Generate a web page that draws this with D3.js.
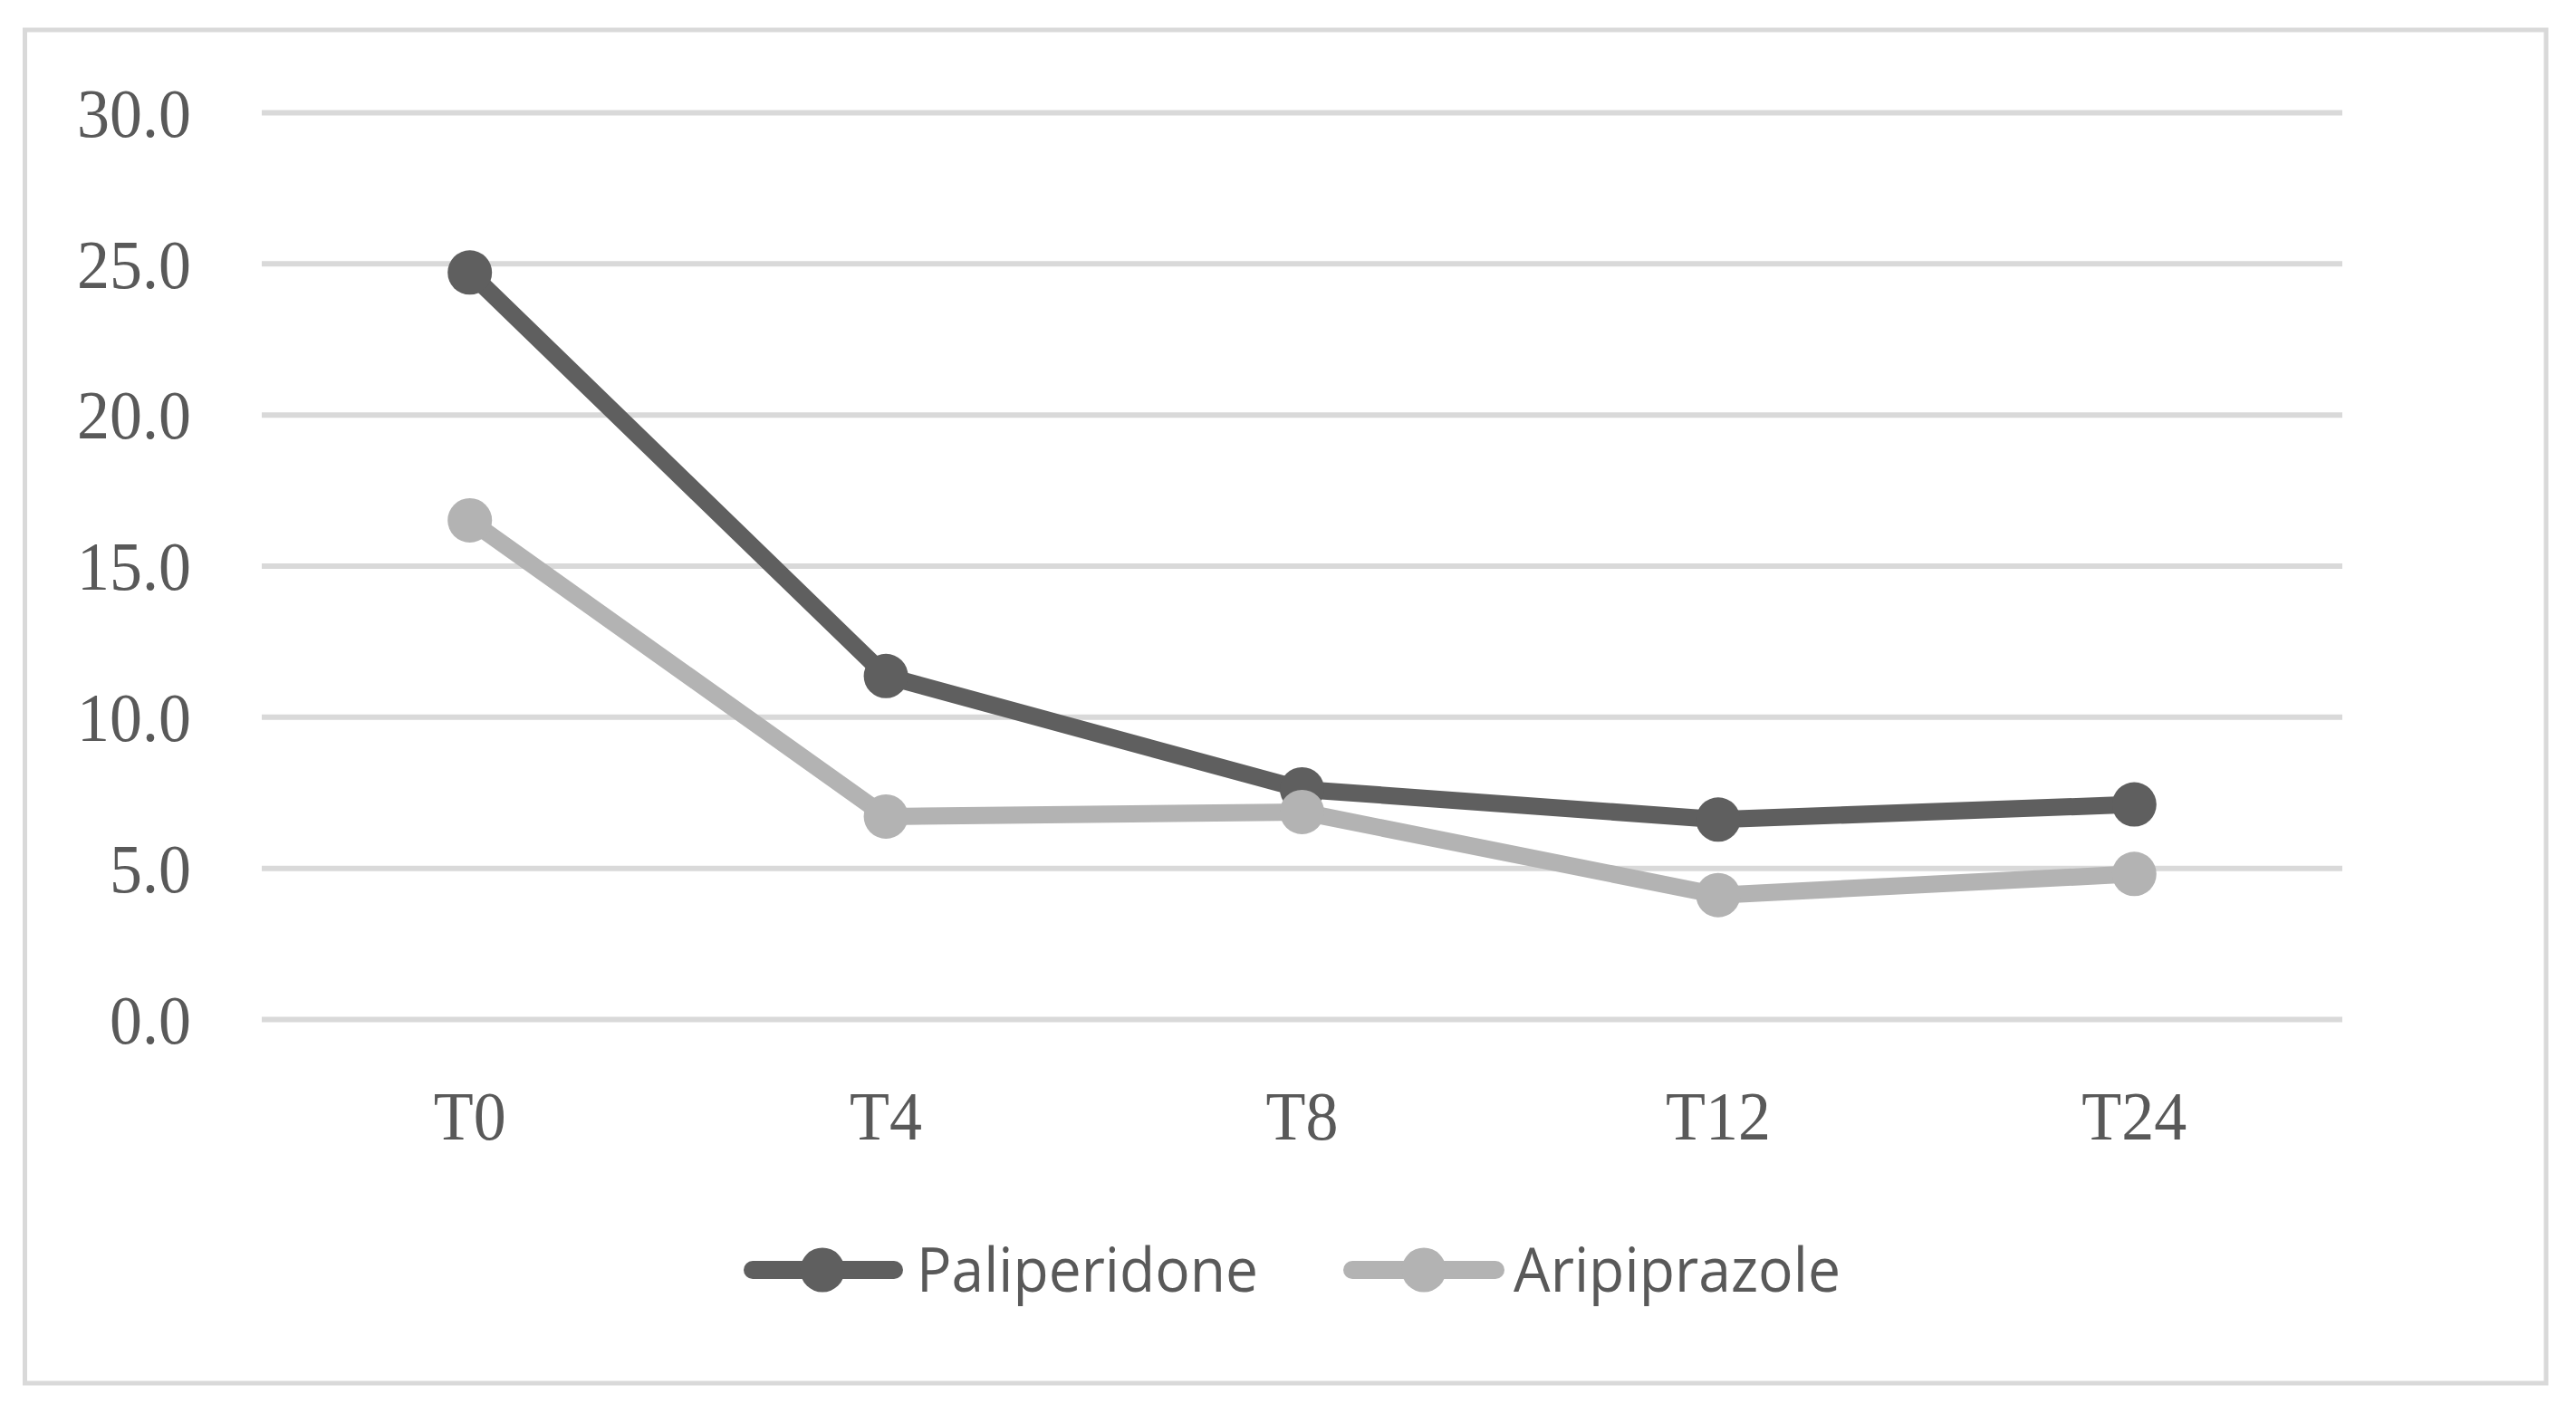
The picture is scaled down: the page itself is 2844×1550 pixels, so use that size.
<!DOCTYPE html>
<html>
<head>
<meta charset="utf-8">
<script src="https://cdn.jsdelivr.net/npm/d3@7"></script>
<style>
  html, body { margin: 0; padding: 0; background: #ffffff; }
  svg { display: block; }
</style>
</head>
<body>
<svg id="chart" width="2844" height="1550"></svg>
<script>
// ---- data ----
const categories = ["T0", "T4", "T8", "T12", "T24"];
const paliperidone = [24.7, 11.35, 7.6, 6.6, 7.1];
const aripiprazole = [16.5, 6.7, 6.85, 4.1, 4.8];
const seriesNames = ["Paliperidone", "Aripiprazole"];
const yTicks = [0, 5, 10, 15, 20, 25, 30];

const seriesColors = ["#5f5f5f", "#b3b3b3"];
const series = [
  { name: seriesNames[0], values: paliperidone, color: seriesColors[0] },
  { name: seriesNames[1], values: aripiprazole, color: seriesColors[1] }
];

const svg = d3.select("#chart");
const W = 2844, H = 1550;
const plot = { left: 289, right: 2586, top: 124, bottom: 1125 };

// outer border
svg.append("rect")
  .attr("x", 27.5).attr("y", 33)
  .attr("width", 2811 - 27.5).attr("height", 1527 - 33)
  .attr("fill", "#ffffff")
  .attr("stroke", "#d9d9d9").attr("stroke-width", 5);

const x = d3.scaleBand().domain(categories).range([plot.left, plot.right]).padding(0);
const y = d3.scaleLinear().domain([0, 30]).range([plot.bottom, plot.top]);

// gridlines + y labels via axis
const yAxis = d3.axisLeft(y)
  .tickValues(yTicks)
  .tickSize(-(plot.right - plot.left))
  .tickPadding(78)
  .tickFormat(d3.format(".1f"));

const gy = svg.append("g")
  .attr("transform", `translate(${plot.left},0)`)
  .call(yAxis);
gy.select(".domain").remove();
gy.selectAll(".tick line").attr("stroke", "#d9d9d9").attr("stroke-width", 6);
gy.selectAll(".tick text")
  .attr("fill", "#595959")
  .style("font-family", "'Liberation Serif', 'Times New Roman', serif")
  .style("font-size", "77px")
  .attr("dy", "0.34em");

// x labels via axis
const xAxis = d3.axisBottom(x).tickSize(0).tickPadding(0);
const gx = svg.append("g")
  .attr("transform", `translate(0,${plot.bottom})`)
  .call(xAxis);
gx.select(".domain").remove();
gx.selectAll(".tick text")
  .attr("fill", "#595959")
  .attr("y", 0)
  .attr("dy", 0)
  .attr("transform", "translate(0,133)")
  .style("font-family", "'Liberation Serif', 'Times New Roman', serif")
  .style("font-size", "77px");

// slight horizontal condensation to match reference text proportions
svg.selectAll(".tick text").each(function() {
  const t = d3.select(this);
  const len = this.getComputedTextLength();
  t.attr("textLength", len * 0.935).attr("lengthAdjust", "spacingAndGlyphs");
});

// lines + markers
const cx = d => x(d) + x.bandwidth() / 2;
const line = d3.line()
  .x((d, i) => cx(categories[i]))
  .y(d => y(d));

series.forEach(s => {
  svg.append("path")
    .datum(s.values)
    .attr("d", line)
    .attr("fill", "none")
    .attr("stroke", s.color)
    .attr("stroke-width", 19)
    .attr("stroke-linejoin", "round")
    .attr("stroke-linecap", "round");
});
series.forEach(s => {
  svg.append("g").selectAll("circle")
    .data(s.values)
    .join("circle")
    .attr("cx", (d, i) => cx(categories[i]))
    .attr("cy", d => y(d))
    .attr("r", 24.5)
    .attr("fill", s.color);
});

// legend
const legendItems = [
  { name: seriesNames[0], color: seriesColors[0], x0: 831, x1: 987, mx: 908, tx: 1012, tw: 377 },
  { name: seriesNames[1], color: seriesColors[1], x0: 1493, x1: 1651, mx: 1572, tx: 1671, tw: 361 }
];
const ly = 1402;
const lg = svg.append("g");
legendItems.forEach(it => {
  lg.append("line")
    .attr("x1", it.x0).attr("x2", it.x1)
    .attr("y1", ly).attr("y2", ly)
    .attr("stroke", it.color).attr("stroke-width", 20)
    .attr("stroke-linecap", "round");
  lg.append("circle").attr("cx", it.mx).attr("cy", ly).attr("r", 24.5).attr("fill", it.color);
  lg.append("text")
    .attr("x", it.tx).attr("y", 1426)
    .attr("fill", "#595959")
    .style("font-family", "'Open Sans', 'Noto Sans', sans-serif")
    .style("font-size", "67px")
    .attr("textLength", it.tw)
    .attr("lengthAdjust", "spacingAndGlyphs")
    .text(it.name);
});
</script>
</body>
</html>
